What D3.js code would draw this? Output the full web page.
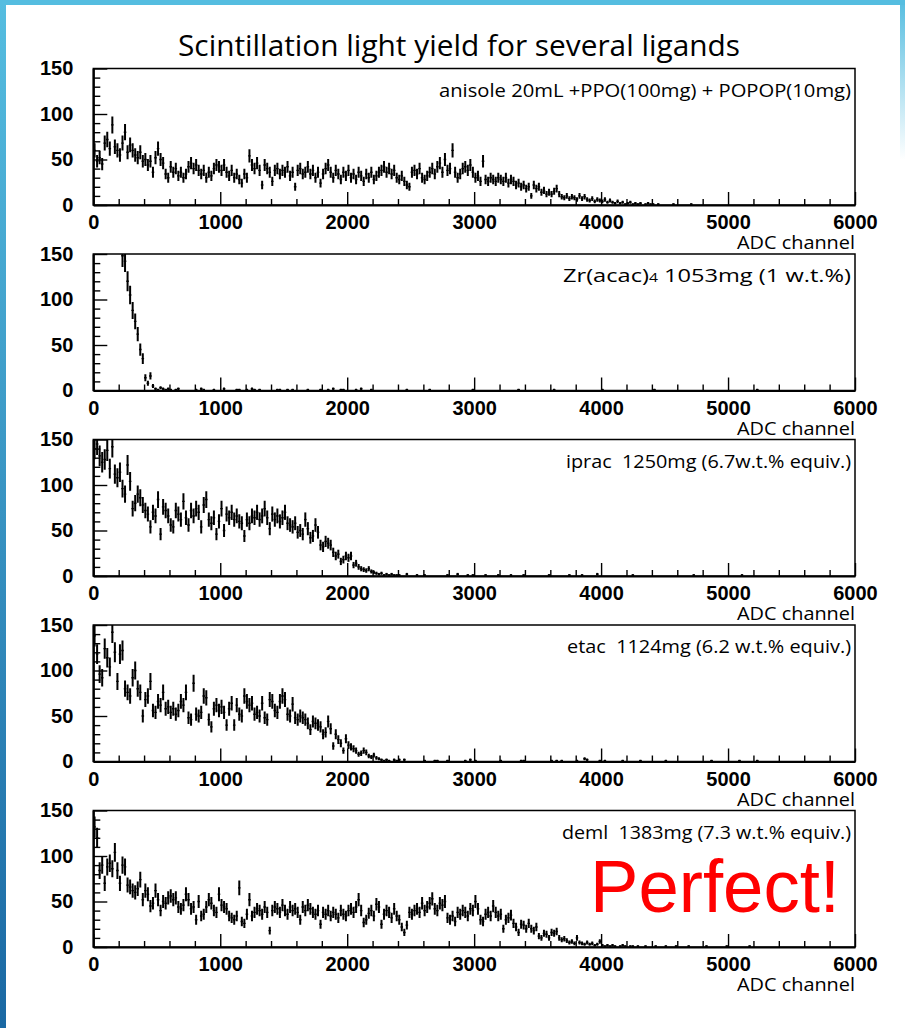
<!DOCTYPE html>
<html>
<head>
<meta charset="utf-8">
<script src="https://cdn.jsdelivr.net/npm/d3@7"></script>
<style>
  html, body { margin: 0; padding: 0; background: #fff; }
  svg { display: block; }
</style>
</head>
<body>
<div id="chart"></div>
<script>
// Scintillation light yield — five ADC spectra drawn as ROOT-style error-bar histograms

const BIN_WIDTH = 20;          // ADC channels per bin
const X_MAX = 6000;
const Y_MAX = 150;

const titleText = 'Scintillation light yield for several ligands';
const axisTitle = 'ADC channel';
const xMajorTicks = [0, 1000, 2000, 3000, 4000, 5000, 6000];
const yMajorTicks = [0, 50, 100, 150];

const panelLabels = [
  'anisole 20mL +PPO(100mg) + POPOP(10mg)',
  'Zr(acac)4 1053mg (1 w.t.%)',
  'iprac  1250mg (6.7w.t.% equiv.)',
  'etac  1124mg (6.2 w.t.% equiv.)',
  'deml  1383mg (7.3 w.t.% equiv.)'
];

// counts per 20-channel bin, starting at ADC 0
const anisoleCounts = [
  60,48,52,45,68,72,62,88,64,60, 55,68,80,58,66,60,55,52,58,48,
  50,44,48,36,52,62,50,46,34,30, 42,36,40,32,36,30,34,42,46,40,
  44,38,34,38,30,36,32,40,44,42, 38,44,36,32,38,30,34,28,24,34,
  30,54,44,40,46,38,22,44,40,36, 26,38,40,34,38,36,42,32,36,20,
  38,40,34,36,42,34,38,30,36,24, 34,40,44,36,30,38,34,28,36,32,
  38,30,34,28,36,32,26,34,30,36, 28,32,36,38,42,36,40,34,38,30,
  28,32,26,22,20,36,38,34,40,30, 28,32,36,40,34,42,46,36,50,38,
  40,60,36,30,34,40,42,38,44,36, 30,32,26,48,28,26,30,28,26,30,
  28,26,30,24,28,26,22,24,20,22, 18,20,10,22,18,20,14,16,12,14,
  12,15,18,12,9,8,10,7,9,8,      6,10,7,9,6,5,7,4,6,5,
  4,6,3,5,3,2,4,2,3,1,           2,3,1,2,1,2,0,1,2,1,
  1,0,1
];
const zracacCounts = [
  420,610,700,660,580,500,430,370,320,270, 210,148,142,120,105,88,76,62,45,35,
  14,8,16,5,2,1,3,2,1,2, 1,0,1,2
];
const ipracCounts = [
  140,145,132,125,128,138,118,142,112,108, 114,96,90,122,104,74,80,90,86,78,
  72,68,54,70,66,84,46,76,72,66,           56,54,72,68,62,82,64,56,72,66,
  74,70,54,78,84,62,58,64,46,60,           74,50,68,64,70,62,66,60,58,44,
  62,58,66,64,70,62,66,74,64,52,           68,62,66,60,64,70,58,56,54,58,
  48,50,46,62,52,42,44,56,48,34,           32,38,36,34,26,22,24,16,18,22,
  20,22,12,14,10,8,7,6,8,5,                4,3,2,3,1,2,1,2,1,1
];
const etacCounts = [
  138,118,96,92,124,114,104,142,120,88,  118,122,80,76,72,92,100,80,76,50,
  68,72,88,56,54,66,62,76,58,60,         54,58,52,56,66,62,76,48,46,86,
  52,50,54,72,70,46,38,58,62,56,         60,54,40,58,64,40,62,52,50,72,
  66,62,64,52,54,50,64,48,46,68,         66,56,54,66,72,68,52,50,63,48,
  46,50,48,46,42,35,44,42,40,38,         30,32,44,36,17,30,24,20,12,25,
  18,16,14,12,8,9,12,10,6,5,             7,4,3,2,1,2,1,0,2,1,
  2
];
const demlCounts = [
  132,120,84,90,70,88,92,86,104,84,  70,90,88,68,66,62,60,64,74,52,
  62,58,45,48,62,52,40,50,48,54,     56,52,54,44,42,46,58,52,42,44,
  30,50,34,36,44,52,48,40,38,58,     46,44,42,34,32,30,34,65,28,26,
  36,52,34,38,42,40,36,44,38,18,     40,44,42,38,46,40,36,44,40,42,
  38,30,44,40,46,42,38,36,40,25,     38,36,40,34,38,36,32,40,36,34,
  40,42,38,44,52,40,27,30,37,40,     34,47,44,25,36,40,38,32,42,34,
  30,22,16,24,38,36,40,42,38,48,     40,44,48,53,42,40,48,46,50,32,
  30,34,28,38,36,40,38,34,42,40,     50,42,30,28,36,38,34,45,38,34,
  36,20,30,32,35,26,22,16,25,24,     20,26,20,18,22,12,10,15,14,10,
  16,15,17,10,8,9,7,5,6,4,           10,5,4,3,5,3,4,2,3,6,
  2,1,2,1,2,1,0,1,2,1,               0,1,1,0,1
];

// sparse single events beyond the dense part (bin-centre ADC, count)
const anisoleTailAdc = [4570, 4710];
const anisoleTailCnt = [1, 1];
const zracacTailAdc = [810,850,870,950,1030,1130,1150,1210,1250,1270,1310,1450,1470,1530,1570,1690,1790,1850,1890,1950,1970,2070,2110,2190,2470,2650,2990,3350,3630,4010,4420,5230];
const zracacTailCnt = [1,2,1,1,2,1,1,1,2,1,1,1,1,1,1,1,1,1,2,1,1,1,2,1,1,1,1,1,1,1,1,1];
const ipracTailAdc = [2410,2470,2550,2610,2790,2870,2950,2990,3090,3190,3290,3390,3590,3750,3850,3970,4250,4730,5110];
const ipracTailCnt = [1,2,1,1,1,2,1,1,1,1,1,1,1,1,1,2,1,1,1];
const etacTailAdc = [2450,2610,2690,2710,2790,2930,2970,3010,3210,3370,3390,3610,3650,3690,3810,3870,3890,3990,4030,4170,4310,4510,4870,5090,5230];
const etacTailCnt = [2,1,1,1,1,1,2,1,1,1,1,1,1,1,1,3,2,1,1,1,1,1,1,1,1];
const demlTailAdc = [4350,4430,4510,4590,4690,4830,4990,5170];
const demlTailCnt = [1,1,1,1,1,1,1,1];

const panels = [
  { label: panelLabels[0], counts: anisoleCounts, tailAdc: anisoleTailAdc, tailCnt: anisoleTailCnt },
  { label: panelLabels[1], counts: zracacCounts,  tailAdc: zracacTailAdc,  tailCnt: zracacTailCnt },
  { label: panelLabels[2], counts: ipracCounts,   tailAdc: ipracTailAdc,   tailCnt: ipracTailCnt },
  { label: panelLabels[3], counts: etacCounts,    tailAdc: etacTailAdc,    tailCnt: etacTailCnt },
  { label: panelLabels[4], counts: demlCounts,    tailAdc: demlTailAdc,    tailCnt: demlTailCnt }
];
const labelWidths = [412, 288, 285, 284, 289];

// ---- layout ----
const W = 905, H = 1028;
const FRAME_L = 93.3, FRAME_R = 855;
const PANEL_TOP0 = 68.5, PANEL_STEP = 185.5, PANEL_H = 136.5;
const TICK_FONT = "'Liberation Sans', Arial, Helvetica, sans-serif";
const THIN_FONT = "'Open Sans', 'Noto Sans', sans-serif";

const svg = d3.select('#chart').append('svg')
  .attr('width', W)
  .attr('height', H);

const defs = svg.append('defs');
const grad = defs.append('linearGradient')
  .attr('id', 'edgeGrad').attr('x1', 0).attr('y1', 0).attr('x2', 0).attr('y2', 1);
grad.append('stop').attr('offset', '0%').attr('stop-color', '#55bde0');
grad.append('stop').attr('offset', '100%').attr('stop-color', '#1a68a3');
const gradR = defs.append('linearGradient')
  .attr('id', 'edgeGradR').attr('x1', 0).attr('y1', 0).attr('x2', 0).attr('y2', 1);
gradR.append('stop').attr('offset', '0%').attr('stop-color', '#55bde0').attr('stop-opacity', 1);
gradR.append('stop').attr('offset', '100%').attr('stop-color', '#55bde0').attr('stop-opacity', 0);

// slide border
svg.append('rect').attr('x', 0).attr('y', 0).attr('width', W).attr('height', H).attr('fill', '#fff');
svg.append('rect').attr('x', 0).attr('y', 0).attr('width', 6).attr('height', H).attr('fill', 'url(#edgeGrad)');
svg.append('rect').attr('x', 0).attr('y', 0).attr('width', W).attr('height', 5).attr('fill', '#55bde0');
svg.append('rect').attr('x', W - 5).attr('y', 0).attr('width', 5).attr('height', 160).attr('fill', 'url(#edgeGradR)');

// title
svg.append('text')
  .attr('x', 459).attr('y', 56)
  .attr('text-anchor', 'middle')
  .attr('textLength', 562).attr('lengthAdjust', 'spacingAndGlyphs')
  .style('font-family', THIN_FONT)
  .style('font-weight', 400)
  .style('font-size', '29px')
  .style('fill', '#000')
  .text(titleText);

const x = d3.scaleLinear().domain([0, X_MAX]).range([FRAME_L, FRAME_R]);
const xMinor = d3.range(0, X_MAX + 1, 200).filter(v => v % 1000 !== 0);
const yMinor = d3.range(0, Y_MAX + 1, 10).filter(v => v % 50 !== 0);

panels.forEach((p, i) => {
  const top = PANEL_TOP0 + i * PANEL_STEP;
  const bottom = top + PANEL_H;
  const y = d3.scaleLinear().domain([0, Y_MAX]).range([bottom, top]);
  const g = svg.append('g').attr('class', 'panel');

  defs.append('clipPath').attr('id', 'clip' + i)
    .append('rect')
    .attr('x', FRAME_L).attr('y', top)
    .attr('width', FRAME_R - FRAME_L).attr('height', PANEL_H);

  // bins: dense part + sparse tail
  const bins = p.counts.map((c, k) => ({ lo: k * BIN_WIDTH, hi: (k + 1) * BIN_WIDTH, n: c }));
  p.tailAdc.forEach((a, k) => bins.push({ lo: a - BIN_WIDTH / 2, hi: a + BIN_WIDTH / 2, n: p.tailCnt[k] }));
  const shown = bins.filter(b => b.n > 0);

  const marks = g.append('g').attr('clip-path', `url(#clip${i})`);
  // error bars (±sqrt N)
  marks.append('g').selectAll('line.ev')
    .data(shown)
    .join('line')
    .attr('class', 'ev')
    .attr('x1', d => x((d.lo + d.hi) / 2))
    .attr('x2', d => x((d.lo + d.hi) / 2))
    .attr('y1', d => y(d.n - Math.sqrt(d.n)))
    .attr('y2', d => y(d.n + Math.sqrt(d.n)))
    .attr('stroke', '#000')
    .attr('stroke-width', 2);
  // bin-width bars
  marks.append('g').selectAll('line.eh')
    .data(shown)
    .join('line')
    .attr('class', 'eh')
    .attr('x1', d => x(d.lo))
    .attr('x2', d => x(d.hi))
    .attr('y1', d => y(d.n))
    .attr('y2', d => y(d.n))
    .attr('stroke', '#000')
    .attr('stroke-width', 1.4);

  // frame
  g.append('rect')
    .attr('x', FRAME_L).attr('y', top)
    .attr('width', FRAME_R - FRAME_L).attr('height', PANEL_H)
    .attr('fill', 'none')
    .attr('stroke', '#000')
    .attr('stroke-width', 1.5);

  // x axis: major ticks with labels, minor ticks
  const xAx = g.append('g').attr('transform', `translate(0,${bottom})`)
    .call(d3.axisBottom(x).tickValues(xMajorTicks).tickSize(-13).tickSizeOuter(0).tickPadding(10).tickFormat(d3.format('d')));
  xAx.select('.domain').attr('stroke-width', 2.2);
  xAx.selectAll('.tick line').attr('stroke-width', 1.4);
  xAx.selectAll('text')
    .style('font-family', TICK_FONT)
    .style('font-weight', 'bold')
    .style('font-size', '20px')
    .style('fill', '#000');
  const xMin = g.append('g').attr('transform', `translate(0,${bottom})`)
    .call(d3.axisBottom(x).tickValues(xMinor).tickSize(-6).tickSizeOuter(0).tickFormat(''));
  xMin.select('.domain').remove();
  xMin.selectAll('.tick line').attr('stroke-width', 1.4);

  // y axis
  const yAx = g.append('g').attr('transform', `translate(${FRAME_L},0)`)
    .call(d3.axisLeft(y).tickValues(yMajorTicks).tickSize(-14).tickSizeOuter(0).tickPadding(20));
  yAx.select('.domain').attr('stroke-width', 2.2);
  yAx.selectAll('.tick line').attr('stroke-width', 1.4);
  yAx.selectAll('text')
    .style('font-family', TICK_FONT)
    .style('font-weight', 'bold')
    .style('font-size', '20px')
    .style('fill', '#000');
  const yMin = g.append('g').attr('transform', `translate(${FRAME_L},0)`)
    .call(d3.axisLeft(y).tickValues(yMinor).tickSize(-7).tickSizeOuter(0).tickFormat(''));
  yMin.select('.domain').remove();
  yMin.selectAll('.tick line').attr('stroke-width', 1.4);

  // axis title
  g.append('text')
    .attr('x', FRAME_R).attr('y', bottom + 44)
    .attr('text-anchor', 'end')
    .attr('textLength', 118).attr('lengthAdjust', 'spacingAndGlyphs')
    .style('font-family', THIN_FONT)
    .style('font-weight', 400)
    .style('font-size', '18px')
    .style('fill', '#000')
    .text(axisTitle);

  // sample label
  const lab = g.append('text')
    .attr('x', 851).attr('y', top + 28)
    .attr('text-anchor', 'end')
    .attr('textLength', labelWidths[i]).attr('lengthAdjust', 'spacingAndGlyphs')
    .style('font-family', THIN_FONT)
    .style('font-weight', 400)
    .style('font-size', '18px')
    .style('white-space', 'pre')
    .style('fill', '#000');
  const sub = p.label.match(/^(Zr\(acac\))4(.*)$/);
  if (sub) {
    lab.append('tspan').text(sub[1]);
    lab.append('tspan').style('font-size', '12px').text('4');
    lab.append('tspan').text(sub[2]);
  } else {
    lab.text(p.label);
  }
});

// red stamp on the last panel
svg.append('text')
  .attr('x', 590).attr('y', 912)
  .attr('textLength', 250).attr('lengthAdjust', 'spacingAndGlyphs')
  .style('font-family', "'Liberation Sans', Arial, Helvetica, sans-serif")
  .style('font-size', '74px')
  .style('fill', '#ff0000')
  .text('Perfect!');
</script>
</body>
</html>
